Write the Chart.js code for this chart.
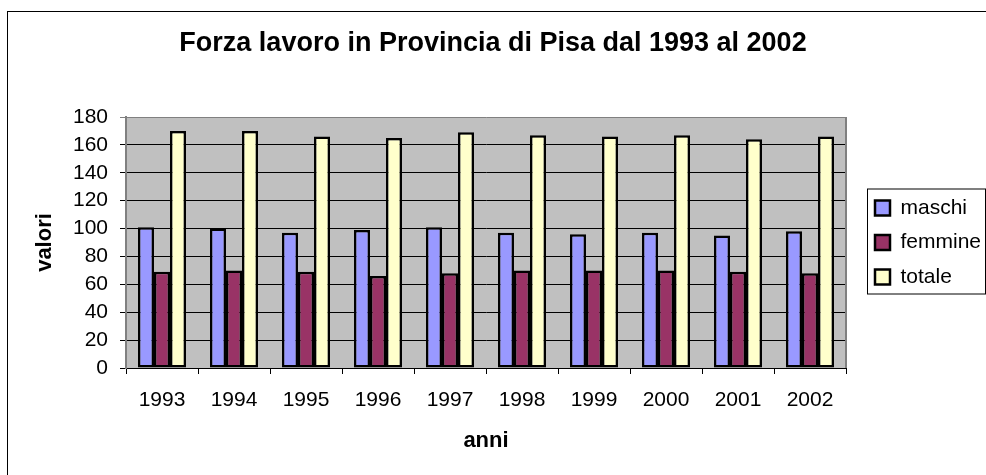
<!DOCTYPE html>
<html lang="it">
<head>
<meta charset="utf-8">
<title>Forza lavoro in Provincia di Pisa dal 1993 al 2002</title>
<script src="https://cdn.jsdelivr.net/npm/chart.js@4.4.1/dist/chart.umd.min.js"></script>
<style>
    html, body {
        margin: 0;
        padding: 0;
        background: #ffffff;
    }
    #wrap {
        position: relative;
        width: 986px;
        height: 475px;
        overflow: hidden;
    }
    #frame {
        position: absolute;
        left: 7px;
        top: 11px;
        width: 1000px;
        height: 500px;
        border-left: 1px solid #000;
        border-top: 1px solid #000;
    }
    #chartBox {
        position: absolute;
        left: 0;
        top: 0;
        width: 986px;
        height: 475px;
    }
</style>
</head>
<body>
<div id="wrap">
    <div id="frame"></div>
    <div id="chartBox"><canvas id="forzaChart"></canvas></div>
</div>
<script>
// Dati
const anni = ['1993', '1994', '1995', '1996', '1997', '1998', '1999', '2000', '2001', '2002'];
const maschi = [101, 100, 97, 99, 101, 97, 96, 97, 95, 98];
const femmine = [69, 70, 69, 66, 68, 70, 70, 70, 69, 68];
const totale = [170, 170, 166, 165, 169, 167, 166, 167, 164, 166];
const yMax = 180;
const yStep = 20;

Chart.defaults.font.family = '"Liberation Sans", Arial, sans-serif';
Chart.defaults.color = '#000000';

// Sfondo grigio dell'area del grafico e cornice della legenda
const plotAreaPlugin = {
    id: 'plotArea',
    beforeDraw(chart) {
        const { ctx, chartArea } = chart;
        ctx.save();
        ctx.fillStyle = '#c0c0c0';
        ctx.fillRect(chartArea.left, chartArea.top, chartArea.right - chartArea.left, chartArea.bottom - chartArea.top);
        ctx.restore();
    },
    afterDraw(chart) {
        const { ctx, chartArea } = chart;
        ctx.save();
        // bordo destro dell'area
        ctx.strokeStyle = '#808080';
        ctx.lineWidth = 2;
        ctx.beginPath();
        ctx.moveTo(chartArea.right, chartArea.top);
        ctx.lineTo(chartArea.right, chartArea.bottom);
        ctx.stroke();

        // cornice legenda
        const boxes = chart.legend.legendHitBoxes;
        if (boxes && boxes.length) {
            const first = boxes[0];
            const last = boxes[boxes.length - 1];
            const x = first.left - 7.5;
            const y = first.top - 8.5;
            ctx.strokeStyle = '#000000';
            ctx.lineWidth = 1;
            ctx.strokeRect(x, y, 985.5 - x, last.top + last.height + 6.5 - y);
        }
        ctx.restore();
    }
};

const ctx = document.getElementById('forzaChart').getContext('2d');

new Chart(ctx, {
    type: 'bar',
    data: {
        labels: anni,
        datasets: [
            {
                label: 'maschi',
                data: maschi,
                backgroundColor: '#9999ff',
                borderColor: '#000000',
                borderWidth: 2.5,
                borderSkipped: false
            },
            {
                label: 'femmine',
                data: femmine,
                backgroundColor: '#993366',
                borderColor: '#000000',
                borderWidth: 2.5,
                borderSkipped: false
            },
            {
                label: 'totale',
                data: totale,
                backgroundColor: '#ffffcc',
                borderColor: '#000000',
                borderWidth: 2.5,
                borderSkipped: false
            }
        ]
    },
    options: {
        responsive: true,
        maintainAspectRatio: false,
        animation: false,
        categoryPercentage: 0.667,
        barPercentage: 1,
        layout: {
            padding: { left: 0, right: 0, top: 0, bottom: 0 }
        },
        plugins: {
            title: {
                display: true,
                text: 'Forza lavoro in Provincia di Pisa dal 1993 al 2002',
                color: '#000000',
                font: { size: 27, weight: 'bold' },
                padding: { top: 27, bottom: 57.6 }
            },
            legend: {
                display: true,
                position: 'right',
                fullSize: false,
                maxWidth: 124.5,
                labels: {
                    boxWidth: 15,
                    boxHeight: 15,
                    padding: 13.5,
                    color: '#000000',
                    font: { size: 21 }
                }
            },
            tooltip: { enabled: false }
        },
        scales: {
            x: {
                grid: {
                    display: true,
                    drawOnChartArea: false,
                    drawTicks: true,
                    tickLength: 6,
                    color: '#000000'
                },
                border: { display: true, color: '#000000', width: 1 },
                ticks: {
                    font: { size: 21 },
                    color: '#000000',
                    padding: 14,
                    maxRotation: 0,
                    autoSkip: false
                },
                title: {
                    display: true,
                    text: 'anni',
                    color: '#000000',
                    font: { size: 22, weight: 'bold' },
                    padding: { top: 0, bottom: 20.8 }
                },
                afterFit(scale) {
                    scale.height = 107;
                }
            },
            y: {
                min: 0,
                max: yMax,
                grid: {
                    color: (c) => (c.tick && c.tick.value === yMax ? '#808080' : '#000000'),
                    tickLength: 6,
                    drawTicks: true
                },
                border: { display: true, color: '#808080', width: 2 },
                ticks: {
                    stepSize: yStep,
                    font: { size: 21 },
                    color: '#000000',
                    padding: 12,
                    autoSkip: false
                },
                title: {
                    display: true,
                    text: 'valori',
                    color: '#000000',
                    font: { size: 22, weight: 'bold' },
                    padding: { top: 31.8, bottom: 0 }
                },
                afterFit(scale) {
                    scale.width = 126;
                }
            },
            spacer: {
                type: 'linear',
                position: 'right',
                display: true,
                grid: { display: false },
                border: { display: false },
                ticks: { display: false },
                afterFit(scale) {
                    scale.width = 15.5;
                }
            }
        }
    },
    plugins: [plotAreaPlugin]
});
</script>
</body>
</html>
